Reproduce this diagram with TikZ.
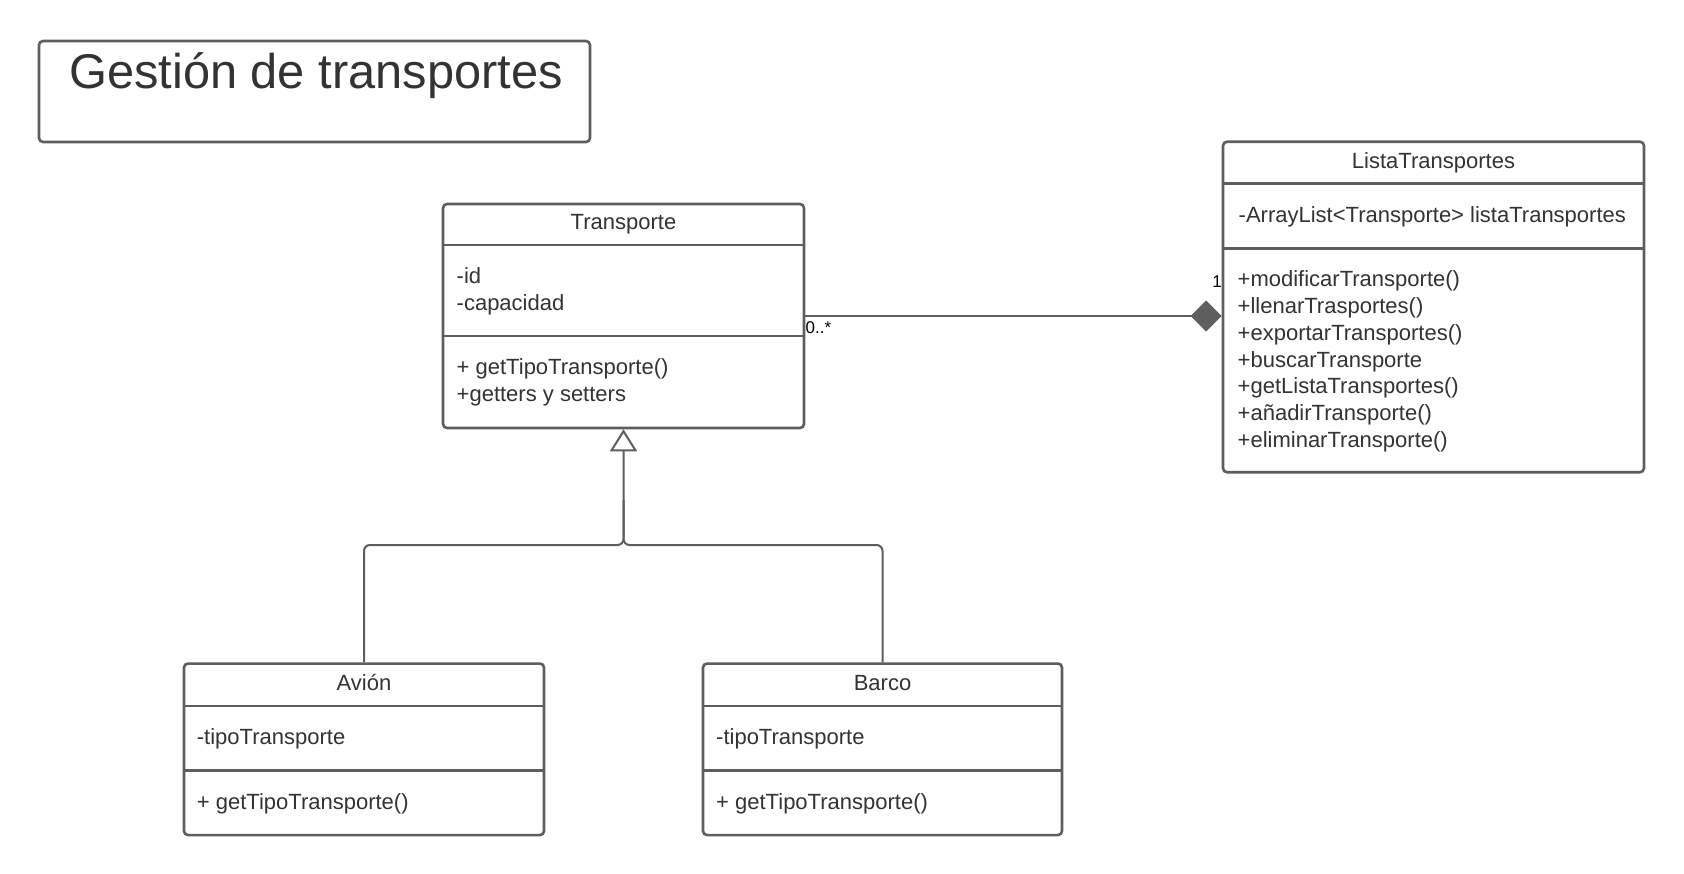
\documentclass[tikz,border=0pt]{standalone}
\usepackage{fontspec}
\setmainfont{Liberation Sans}
\usetikzlibrary{arrows.meta}
\definecolor{ln}{HTML}{5E5E5E}
\definecolor{tx}{HTML}{333333}
\begin{document}
\begin{tikzpicture}[x=1pt,y=-1pt,
  box/.style={draw=ln, line width=2.6pt, rounded corners=4pt, fill=white, inner sep=0pt},
  div/.style={draw=ln, line width=2.6pt},
  conn/.style={draw=ln, line width=2pt},
  lbl/.style={anchor=base west, inner sep=0pt, text=tx, font=\fontsize{22}{26}\selectfont},
  ttl/.style={anchor=base, inner sep=0pt, text=tx, font=\fontsize{22}{26}\selectfont},
  mult/.style={inner sep=0pt, text=black, font=\fontsize{17}{20}\selectfont}]
\useasboundingbox (0,0) rectangle (1684,874);
\fill[white] (0,0) rectangle (1684,874);

% title
\node[box, minimum width=551pt, minimum height=101pt] (tb) at (314.5,91.5) {};
\node[anchor=base, inner sep=0pt, text=tx, font=\fontsize{48.8}{56}\selectfont] (tt) at (316,89) {Gestión de transportes};

% Transporte
\node[box, minimum width=361pt, minimum height=224pt] (tr) at (623.5,316) {};
\draw[div] (443,245) -- (804,245);
\draw[div] (443,336) -- (804,336);
\node[ttl] (trn) at (623.5,230) {Transporte};
\node[lbl] (tra1) at (456.5,283.5) {-id};
\node[lbl] (tra2) at (456.5,310.8) {-capacidad};
\node[lbl] (trm1) at (456.5,374.5) {+ getTipoTransporte()};
\node[lbl] (trm2) at (456.5,401.8) {+getters y setters};

% ListaTransportes
\node[box, minimum width=421pt, minimum height=330.5pt] (lt) at (1433.5,307) {};
\draw[div] (1223,183.3) -- (1644,183.3);
\draw[div] (1223,248.3) -- (1644,248.3);
\node[ttl] (ltn) at (1433.5,169) {ListaTransportes};
\node[lbl] (lta1) at (1238.5,223) {-ArrayList<Transporte> listaTransportes};
\foreach \t [count=\i from 0] in {+modificarTransporte(),+llenarTrasportes(),+exportarTransportes(),+buscarTransporte,+getListaTransportes(),+añadirTransporte(),+eliminarTransporte()}
  \node[lbl] (ltm\i) at (1237.5,287+26.67*\i) {\t};

% Avion
\node[box, minimum width=360pt, minimum height=171.5pt] (av) at (364,749.3) {};
\draw[div] (184,706) -- (544,706);
\draw[div] (184,770.3) -- (544,770.3);
\node[ttl] (avn) at (364,690) {Avión};
\node[lbl] (ava1) at (196.7,744) {-tipoTransporte};
\node[lbl] (avm1) at (196.7,809.2) {+ getTipoTransporte()};

% Barco
\node[box, minimum width=359pt, minimum height=171.5pt] (ba) at (882.5,749.3) {};
\draw[div] (703,706) -- (1062,706);
\draw[div] (703,770.3) -- (1062,770.3);
\node[ttl] (ban) at (882.5,690) {Barco};
\node[lbl] (baa1) at (716,744) {-tipoTransporte};
\node[lbl] (bam1) at (716,809.2) {+ getTipoTransporte()};

% composition
\draw[conn, -{Diamond[length=31pt, width=31pt, fill=ln]}] (tr.east) -- (tr.east -| lt.west);
\node[mult, anchor=base west] (m0) at (805.5,334) {0..*};
\node[mult, anchor=base east] (m1) at (1222,288) {1};

% generalization
\coordinate (jn) at (623.5,545);
\coordinate (jt) at (623.5,500);
\draw[conn, rounded corners=6pt, -{Triangle[open, length=22pt, width=27pt]}] (av.north) |- (jn) -- (tr.south);
\draw[conn, rounded corners=6pt] (ba.north) |- (jn) -- (jt);
\end{tikzpicture}
\end{document}
